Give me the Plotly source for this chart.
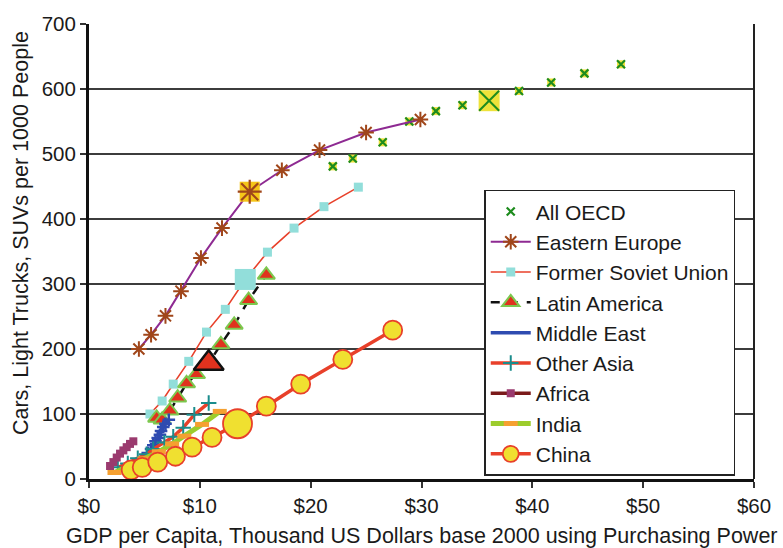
import plotly.graph_objects as go

# GDP per capita (thousand US$, PPP base 2000) and vehicles per 1000 people
oecd_x = [22.0, 23.8, 26.5, 28.9, 31.3, 33.7, 36.1, 38.8, 41.7, 44.7, 48.0]
oecd_y = [481, 493, 518, 550, 566, 575, 582, 597, 610, 624, 638]

ee_x = [4.5, 5.6, 6.9, 8.3, 10.1, 12.0, 14.5, 17.4, 20.8, 25.0, 29.9]
ee_y = [200, 222, 251, 289, 340, 386, 442, 475, 506, 533, 553]

fsu_x = [5.5, 6.6, 7.6, 9.0, 10.6, 12.3, 14.1, 16.1, 18.5, 21.2, 24.3]
fsu_y = [100, 120, 146, 181, 226, 261, 307, 349, 386, 419, 449]

la_x = [6.1, 6.6, 7.3, 8.0, 8.8, 9.7, 10.8, 11.9, 13.1, 14.4, 16.0]
la_y = [94, 91, 105, 125, 147, 161, 178, 207, 237, 275, 314]

me_x = [5.3, 5.6, 5.8, 6.0, 6.2, 6.4, 6.5, 6.7, 6.9, 7.2]
me_y = [40, 46, 52, 58, 63, 68, 74, 80, 85, 91]

oa_x = [2.6, 3.5, 4.4, 5.2, 5.8, 6.8, 7.6, 8.5, 9.5, 10.8]
oa_y = [18, 24, 32, 38, 46, 56, 65, 79, 99, 117]

af_x = [1.9, 2.2, 2.5, 2.8, 3.1, 3.4, 3.7, 4.0]
af_y = [20, 26, 33, 39, 44, 49, 54, 58]

in_x = [2.3, 3.7, 5.0, 6.3, 7.5, 8.6, 10.2, 11.8]
in_y = [10, 21, 31, 42, 54, 66, 84, 104]

cn_x = [3.8, 4.8, 6.2, 7.8, 9.3, 11.1, 13.4, 16.0, 19.1, 22.9, 27.4]
cn_y = [14, 18, 26, 35, 49, 64, 85, 112, 146, 184, 229]

# index of the highlighted (enlarged) year in each series
HI = 6

x_ticks = [0, 10, 20, 30, 40, 50, 60]
x_tick_text = ["$0", "$10", "$20", "$30", "$40", "$50", "$60"]
y_ticks = [0, 100, 200, 300, 400, 500, 600, 700]

FONT = "Liberation Sans, Arial, Helvetica, sans-serif"
TXT = "#1a1a1a"
RED = "#E8402A"
OECD_GREEN = "#1E8C1E"
OECD_YELLOW = "#EEE23A"
EE_BROWN = "#A0461A"
OA_TEAL = "#1A8C8C"
ME_BLUE = "#2E4BB0"

fig = go.Figure()


def add(trace):
    fig.add_trace(trace)


# All OECD: yellow square behind a green x
add(go.Scatter(x=oecd_x, y=oecd_y, mode="markers", showlegend=False, hoverinfo="skip",
               marker=dict(symbol="square", size=8, color=OECD_YELLOW, line=dict(width=0))))
add(go.Scatter(x=oecd_x, y=oecd_y, mode="markers", name="All OECD", legendgroup="g1",
               marker=dict(symbol="x-thin-open", size=8, color=OECD_GREEN,
                           line=dict(width=2.2, color=OECD_GREEN))))
add(go.Scatter(x=[oecd_x[HI]], y=[oecd_y[HI]], mode="markers", showlegend=False, hoverinfo="skip",
               marker=dict(symbol="square", size=21, color=OECD_YELLOW, line=dict(width=0))))
add(go.Scatter(x=[oecd_x[HI]], y=[oecd_y[HI]], mode="markers", showlegend=False, hoverinfo="skip",
               marker=dict(symbol="x-thin-open", size=20, color=OECD_GREEN,
                           line=dict(width=2, color=OECD_GREEN))))

# Eastern Europe
add(go.Scatter(x=ee_x, y=ee_y, mode="lines+markers", name="Eastern Europe", legendgroup="g2",
               line=dict(color="#8E2A92", width=2),
               marker=dict(symbol="asterisk-open", size=13, color=EE_BROWN,
                           line=dict(width=2, color=EE_BROWN))))
add(go.Scatter(x=[ee_x[HI]], y=[ee_y[HI]], mode="markers", showlegend=False, hoverinfo="skip",
               marker=dict(symbol="square", size=20, color="#F5C518", line=dict(width=0))))
add(go.Scatter(x=[ee_x[HI]], y=[ee_y[HI]], mode="markers", showlegend=False, hoverinfo="skip",
               marker=dict(symbol="asterisk-open", size=20, color=EE_BROWN,
                           line=dict(width=2.2, color=EE_BROWN))))

# Former Soviet Union
add(go.Scatter(x=fsu_x, y=fsu_y, mode="lines+markers", name="Former Soviet Union", legendgroup="g3",
               line=dict(color=RED, width=1.6),
               marker=dict(symbol="square", size=9, color="#92DEDA", line=dict(width=0))))
add(go.Scatter(x=[fsu_x[HI]], y=[fsu_y[HI]], mode="markers", showlegend=False, hoverinfo="skip",
               marker=dict(symbol="square", size=21, color="#92DEDA", line=dict(width=0))))

# Latin America
add(go.Scatter(x=la_x, y=la_y, mode="lines+markers", name="Latin America", legendgroup="g4",
               line=dict(color="#111111", width=2.5, dash="dash"),
               marker=dict(symbol="triangle-up", size=15, color="#E0321E",
                           line=dict(width=2, color="#7CC84E"))))
add(go.Scatter(x=[la_x[HI]], y=[la_y[HI]], mode="markers", showlegend=False, hoverinfo="skip",
               marker=dict(symbol="triangle-up", size=26, color="#E0321E",
                           line=dict(width=2.5, color="#111111"))))

# Middle East
add(go.Scatter(x=me_x, y=me_y, mode="lines", name="Middle East", legendgroup="g5",
               line=dict(color=ME_BLUE, width=3.5)))
add(go.Scatter(x=me_x, y=me_y, mode="markers", showlegend=False, hoverinfo="skip",
               marker=dict(symbol="cross-thin-open", size=9, color=ME_BLUE,
                           line=dict(width=2.5, color=ME_BLUE))))

# Other Asia
add(go.Scatter(x=oa_x, y=oa_y, mode="lines+markers", name="Other Asia", legendgroup="g6",
               line=dict(color=RED, width=3.5),
               marker=dict(symbol="cross-thin-open", size=11, color=OA_TEAL,
                           line=dict(width=2, color=OA_TEAL))))

# Africa
add(go.Scatter(x=af_x, y=af_y, mode="lines+markers", name="Africa", legendgroup="g7",
               line=dict(color="#7A1A1A", width=3.5),
               marker=dict(symbol="square", size=8, color="#9A3A6E", line=dict(width=0))))

# India
add(go.Scatter(x=in_x, y=in_y, mode="lines+markers", name="India", legendgroup="g8",
               line=dict(color="#9CCC2C", width=5),
               marker=dict(symbol="line-ew", size=10, color="#F5A030",
                           line=dict(width=5, color="#F5A030"))))

# China
add(go.Scatter(x=cn_x, y=cn_y, mode="lines+markers", name="China", legendgroup="g9",
               line=dict(color=RED, width=3.5),
               marker=dict(symbol="circle", size=19, color="#F0E030", line=dict(width=1.8, color=RED))))
add(go.Scatter(x=[cn_x[HI]], y=[cn_y[HI]], mode="markers", showlegend=False, hoverinfo="skip",
               marker=dict(symbol="circle", size=29, color="#F0E030", line=dict(width=1.8, color=RED))))

L, R, T, B = 89, 21, 18, 69
W, H = 783, 548
pw, ph = W - L - R, H - T - B

fig.update_layout(
    width=W, height=H,
    margin=dict(l=L, r=R, t=T, b=B, pad=0),
    paper_bgcolor="white", plot_bgcolor="white",
    font=dict(family=FONT, size=20, color=TXT),
    showlegend=True,
    legend=dict(
        x=(489 - L) / pw, y=(H - B - 186) / ph, xanchor="left", yanchor="top",
        bgcolor="white", bordercolor="#222222", borderwidth=1.5,
        font=dict(family=FONT, size=21, color=TXT),
        traceorder="grouped", tracegroupgap=0, itemwidth=40,
    ),
    xaxis=dict(
        range=[0, 60], tickvals=x_ticks, ticktext=x_tick_text,
        showgrid=False, zeroline=False,
        showline=True, linecolor="#111111", linewidth=3,
        ticks="outside", ticklen=6, tickwidth=1.5, tickcolor="#333333",
        tickfont=dict(family=FONT, size=20.5, color=TXT),
    ),
    yaxis=dict(
        range=[0, 700], tickvals=y_ticks,
        showgrid=True, gridcolor="#3c3c3c", gridwidth=1.5,
        zeroline=False,
        showline=True, linecolor="#111111", linewidth=3,
        ticks="outside", ticklen=6, tickwidth=1.5, tickcolor="#333333",
        tickfont=dict(family=FONT, size=20.5, color=TXT),
    ),
    shapes=[dict(type="line", xref="paper", yref="paper", x0=1, x1=1, y0=0, y1=1,
                 line=dict(color="#222222", width=2))],
    annotations=[
        dict(text="GDP per Capita, Thousand US Dollars base 2000 using Purchasing Power",
             xref="paper", yref="paper", x=0.5, y=(H - B - 537) / ph,
             xanchor="center", yanchor="middle", showarrow=False,
             font=dict(family=FONT, size=21.5, color=TXT)),
        dict(text="Cars, Light Trucks, SUVs per 1000 People",
             xref="paper", yref="paper", x=(20 - L) / pw, y=(H - B - 230) / ph,
             xanchor="center", yanchor="middle", textangle=-90, showarrow=False,
             font=dict(family=FONT, size=21.5, color=TXT)),
    ],
)

fig.write_html("out.html")
